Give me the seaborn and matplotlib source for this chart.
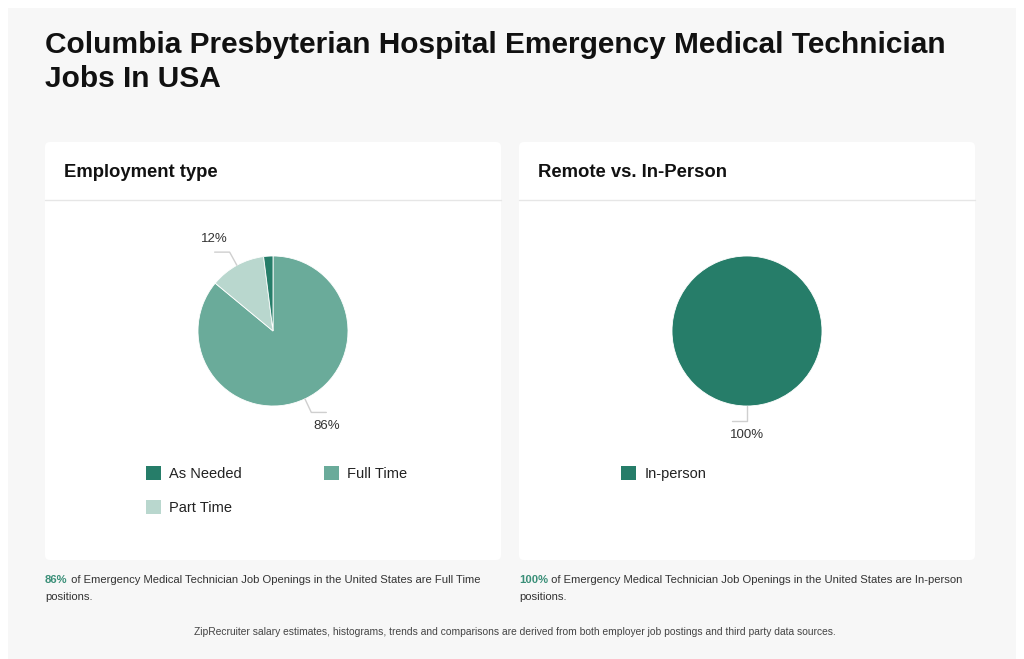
import numpy as np
import matplotlib
matplotlib.use("Agg")
import matplotlib.pyplot as plt
from matplotlib.patches import FancyBboxPatch, Rectangle, Patch
import seaborn as sns

# ─── Data ────────────────────────────────────────────────────────────────────
emp_types = ["As Needed", "Full Time", "Part Time"]
emp_share = [2, 86, 12]
pie_order = ["Full Time", "Part Time", "As Needed"]   # clockwise from 12 o'clock

remote_types = ["In-person"]
remote_share = [100]

TITLE_1 = "Columbia Presbyterian Hospital Emergency Medical Technician"
TITLE_2 = "Jobs In USA"
FOOT = "ZipRecruiter salary estimates, histograms, trends and comparisons are derived from both employer job postings and third party data sources."

# ─── Style ───────────────────────────────────────────────────────────────────
sns.set_theme(style="white")
plt.rcParams["font.family"] = ["Liberation Sans", "DejaVu Sans"]

palette = dict(zip(emp_types, sns.color_palette(["#267d69", "#6aab9a", "#b9d7ce"])))
palette["In-person"] = "#267d69"
GREEN_TXT = "#3a8f78"
LINE_CLR = "#cfcfcf"

W, H = 1024, 659
fig = plt.figure(figsize=(W / 100, H / 100), dpi=100)
fig.patch.set_facecolor("white")

# full-figure canvas in pixel coordinates
bg = fig.add_axes([0, 0, 1, 1])
bg.set_xlim(0, W)
bg.set_ylim(H, 0)
bg.axis("off")
bg.add_patch(Rectangle((8, 8), W - 16, H - 8, facecolor="#f7f7f7", edgecolor="none"))

bg.text(45, 53, TITLE_1, fontsize=21.5, fontweight="bold", color="#111111", va="baseline")
bg.text(45, 87, TITLE_2, fontsize=21.5, fontweight="bold", color="#111111", va="baseline")


def card(x0, header):
    bg.add_patch(FancyBboxPatch((x0, 142), 456, 418,
                                boxstyle="round,pad=0,rounding_size=5",
                                facecolor="white", edgecolor="none"))
    bg.plot([x0, x0 + 456], [200, 200], color="#e6e6e6", lw=1)
    bg.text(x0 + 19, 177, header, fontsize=13.3, fontweight="bold",
            color="#111111", va="baseline")


card(45, "Employment type")
card(519, "Remote vs. In-Person")


def row_major(items, ncol):
    # matplotlib fills legend columns first; reorder so entries read across rows
    nrow = int(np.ceil(len(items) / ncol))
    return [items[r * ncol + c] for c in range(ncol) for r in range(nrow)
            if r * ncol + c < len(items)]


def pie_panel(cx, cy, labels, values, order, legend_xy, ncol):
    ax = fig.add_axes([(cx - 150) / W, (H - cy - 150) / H, 300 / W, 300 / H])
    vals = [values[labels.index(k)] for k in order]
    wedges, _ = ax.pie(vals, colors=[palette[k] for k in order], startangle=90,
                       counterclock=False, radius=1,
                       wedgeprops=dict(linewidth=0.6, edgecolor="white"))
    ax.set_xlim(-2, 2)
    ax.set_ylim(-2, 2)
    ax.set_aspect("equal")
    ax.axis("off")

    total = float(sum(vals))
    for w, v in zip(wedges, vals):
        pct = 100 * v / total
        if pct < 5:
            continue
        ang = np.deg2rad((w.theta1 + w.theta2) / 2)
        x0, y0 = np.cos(ang), np.sin(ang)
        x1, y1 = 1.2 * x0, 1.2 * y0
        side = 1 if x0 > 1e-6 else -1
        x2 = x1 + side * 0.2
        ax.plot([x0, x1, x2], [y0, y1, y1], color=LINE_CLR, lw=1, clip_on=False)
        tx = x1 if abs(x0) < 0.05 else x2
        ax.text(tx, y1 + (0.1 if y0 > 0 else -0.1), f"{pct:.0f}%",
                ha="center", va="bottom" if y0 > 0 else "top",
                fontsize=9.5, color="#333333")

    shown = row_major(labels, ncol)
    handles = [Patch(facecolor=palette[k], edgecolor="none") for k in shown]
    fig.legend(handles, shown, loc="upper left", ncol=ncol,
               bbox_to_anchor=(legend_xy[0] / W, 1 - legend_xy[1] / H),
               frameon=False, fontsize=10.5, handlelength=1.05, handleheight=1.05,
               handletextpad=0.55, columnspacing=5.6, labelspacing=1.35,
               borderpad=0, borderaxespad=0, labelcolor="#222222")


pie_panel(273, 331, emp_types, emp_share, pie_order, (146, 466), 2)
pie_panel(747, 331, remote_types, remote_share, remote_types, (621, 466), 1)


def note(x0, pct, rest):
    t = bg.text(x0, 583, pct, fontsize=8.1, fontweight="bold", color=GREEN_TXT, va="baseline")
    bg.annotate(" " + rest, xy=(1, 0), xycoords=t, fontsize=8.1, color="#333333",
                va="bottom", ha="left")
    bg.text(x0, 600, "positions.", fontsize=8.1, color="#333333", va="baseline")


full_pct = emp_share[emp_types.index("Full Time")]
note(45, f"{full_pct}%",
     "of Emergency Medical Technician Job Openings in the United States are Full Time")
note(519, f"{remote_share[0]}%",
     "of Emergency Medical Technician Job Openings in the United States are In-person")

bg.text(515, 632, FOOT, fontsize=7.35, color="#444444", ha="center", va="center")

fig.savefig("out.png", dpi=100, facecolor=fig.get_facecolor())
